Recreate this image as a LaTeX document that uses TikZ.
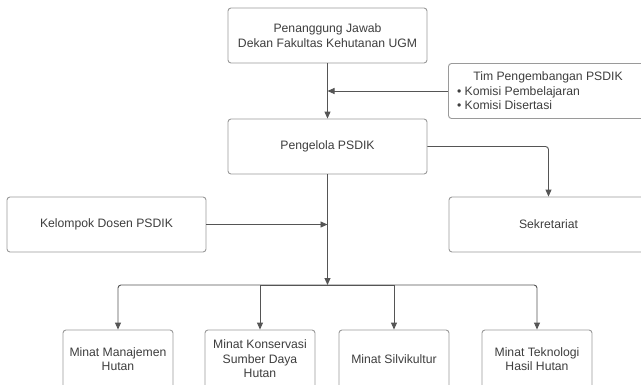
\documentclass[tikz,border=0pt]{standalone}
\usepackage{fontspec}
\setmainfont{Liberation Sans}
\usepackage{tikz}
\usetikzlibrary{arrows.meta}

\definecolor{garis}{HTML}{555555}
\definecolor{bingkai}{HTML}{9A9A9A}
\definecolor{teks}{HTML}{3E3E3E}

\tikzset{
  kotak/.style={draw=bingkai, line width=0.9pt, rounded corners=3pt, fill=white,
    minimum width=199pt, minimum height=55pt, inner sep=0pt, align=center,
    text=teks, font=\fontsize{12.2}{14.5}\selectfont},
  minat/.style={kotak, minimum width=110pt, minimum height=58pt},
  panah/.style={draw=garis, line width=0.9pt, ->},
}

\begin{document}
\begin{tikzpicture}[x=1pt, y=-1pt, >={Triangle[length=7pt,width=6pt]}]
            \useasboundingbox (0,0) rectangle (641,384);

            % kotak atas
            \node[kotak] (penanggung) at (327.5,35.5) {Penanggung Jawab\\Dekan Fakultas Kehutanan UGM};
            \node[kotak, align=left] (tim) at (548,91) {\makebox[182pt][c]{Tim Pengembangan PSDIK}\\\textbullet\ Komisi Pembelajaran\\\textbullet\ Komisi Disertasi};
            \node[kotak] (pengelola) at (327.5,146.5) {Pengelola PSDIK};
            \node[kotak] (kelompok) at (106.5,224.5) {Kelompok Dosen PSDIK};
            \node[kotak] (sekretariat) at (548.5,224.5) {Sekretariat};

            % kotak minat
            \node[minat] (manajemen) at (118,359) {Minat Manajemen\\Hutan};
            \node[minat] (konservasi) at (260,359) {Minat Konservasi\\Sumber Daya\\Hutan};
            \node[minat] (silvikultur) at (394,359) {Minat Silvikultur};
            \node[minat] (teknologi) at (537,359) {Minat Teknologi\\Hasil Hutan};

            \coordinate (bus) at (327.5,285);

            % panah
            \draw[panah] (penanggung) -- (pengelola);
            \draw[panah] (tim.west) -- (tim.west -| penanggung.south);
            \draw[panah, rounded corners=3pt] (pengelola.east) -| (sekretariat.north);
            \draw[panah] (pengelola) -- (bus);
            \draw[panah] (kelompok) -- (kelompok -| pengelola.south);
            \draw[panah, rounded corners=3pt] (bus) -| (manajemen.north);
            \draw[panah] (bus) -| (konservasi.north);
            \draw[panah] (bus) -| (silvikultur.north);
            \draw[panah, rounded corners=3pt] (bus) -| (teknologi.north);
        \end{tikzpicture}
\end{document}
